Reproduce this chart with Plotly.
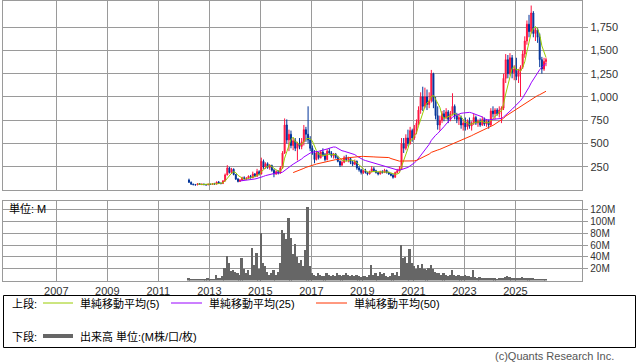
import pandas as pd
import plotly.graph_objects as go

# ---------------- data (monthly, from 2012-03) ----------------
start_month = "2012-03-01"

opens = [
    # 2012 Mar-Dec
    110, 85, 65, 60, 58, 70, 62, 66, 60, 58,
    # 2013
    65, 62, 70, 66, 88, 75, 72, 100, 165, 240, 190, 225,
    # 2014
    170, 120, 95, 110, 135, 125, 130, 150, 135, 175, 150, 200,
    # 2015
    175, 310, 250, 285, 245, 265, 215, 175, 200, 185, 240, 400,
    # 2016
    700, 540, 600, 480, 530, 450, 500, 470, 520, 650, 600, 540,
    # 2017
    450, 400, 330, 400, 350, 410, 380, 330, 420, 400, 370, 390,
    # 2018
    350, 310, 270, 300, 350, 330, 340, 300, 280, 310, 240, 220,
    # 2019
    190, 210, 190, 175, 200, 230, 210, 190, 175, 200, 190, 215,
    # 2020
    190, 175, 160, 140, 190, 210, 230, 500, 450, 560, 500, 640,
    # 2021
    560, 660, 720, 860, 1000, 900, 1000, 920, 960, 1250, 950, 800,
    # 2022
    700, 750, 820, 780, 840, 760, 820, 900, 800, 760, 780, 700,
    # 2023
    720, 680, 740, 690, 720, 780, 720, 740, 700, 760, 710, 740,
    # 2024
    700, 850, 820, 860, 820, 860, 880, 1200, 1400, 1250, 1420, 1260,
    # 2025
    1300, 1220, 1280, 1320, 1460, 1600, 1780, 1700, 1900, 1680, 1720, 1640,
    # 2026 Jan-Mar
    1400, 1300, 1380,
]
highs = [
    125, 95, 72, 68, 75, 78, 70, 72, 66, 70,
    72, 75, 80, 95, 100, 85, 110, 180, 270, 250, 240, 235,
    175, 130, 120, 145, 150, 140, 160, 165, 200, 185, 230, 215,
    350, 330, 300, 300, 280, 275, 230, 215, 215, 260, 420, 770,
    760, 650, 640, 560, 560, 520, 560, 560, 700, 680, 900, 580,
    480, 430, 420, 410, 430, 450, 400, 440, 450, 420, 400, 400,
    370, 320, 320, 370, 380, 360, 350, 320, 330, 320, 260, 230,
    220, 230, 200, 210, 260, 250, 220, 200, 210, 215, 230, 220,
    200, 185, 175, 200, 230, 260, 560, 560, 600, 650, 680, 660,
    700, 760, 900, 1050, 1110, 1100, 1080, 1050, 1290, 1260, 1000, 900,
    800, 850, 860, 880, 860, 850, 1040, 920, 830, 820, 800, 760,
    780, 760, 780, 740, 820, 800, 760, 770, 790, 780, 760, 760,
    880, 900, 880, 880, 900, 900, 1250, 1460, 1450, 1470, 1450, 1340,
    1420, 1300, 1340, 1500, 1650, 1820, 1880, 1980, 1920, 1740, 1740, 1680,
    1430, 1420, 1420,
]
lows = [
    80, 60, 55, 52, 55, 58, 55, 58, 52, 55,
    58, 60, 62, 64, 70, 65, 70, 95, 160, 180, 175, 160,
    110, 85, 90, 100, 115, 110, 120, 125, 130, 140, 145, 160,
    170, 230, 230, 230, 220, 200, 140, 165, 170, 180, 230, 390,
    500, 420, 450, 430, 420, 320, 440, 440, 480, 520, 500, 420,
    380, 290, 320, 330, 340, 360, 310, 320, 380, 350, 340, 340,
    300, 250, 260, 290, 310, 300, 280, 260, 270, 220, 200, 170,
    175, 180, 160, 170, 190, 200, 180, 160, 170, 180, 185, 180,
    165, 150, 125, 135, 180, 200, 220, 400, 430, 470, 490, 520,
    540, 600, 700, 820, 850, 880, 860, 880, 940, 880, 760, 650,
    640, 720, 740, 760, 720, 740, 800, 760, 720, 700, 660, 640,
    640, 650, 660, 640, 700, 700, 680, 680, 690, 690, 680, 660,
    690, 780, 760, 800, 780, 720, 860, 1150, 1200, 1230, 1200, 1180,
    1180, 1150, 1000, 1300, 1420, 1560, 1640, 1680, 1640, 1600, 1580, 1320,
    1250, 1280, 1330,
]
closes = [
    85, 65, 60, 58, 70, 62, 66, 60, 58, 65,
    62, 70, 66, 88, 75, 72, 100, 165, 240, 190, 225, 170,
    120, 95, 110, 135, 125, 130, 150, 135, 175, 150, 200, 175,
    310, 250, 285, 245, 265, 215, 175, 200, 185, 240, 400, 700,
    540, 600, 480, 530, 450, 500, 470, 520, 650, 600, 540, 450,
    400, 330, 400, 350, 410, 380, 330, 420, 400, 370, 390, 350,
    310, 270, 300, 350, 330, 340, 300, 280, 310, 240, 220, 190,
    210, 190, 175, 200, 230, 210, 190, 175, 200, 190, 215, 190,
    175, 160, 140, 190, 210, 230, 500, 450, 560, 500, 640, 560,
    660, 720, 860, 1000, 900, 1000, 920, 960, 1250, 950, 800, 700,
    750, 820, 780, 840, 760, 820, 900, 800, 760, 780, 700, 720,
    680, 740, 690, 720, 780, 720, 740, 700, 760, 710, 740, 700,
    850, 820, 860, 820, 860, 880, 1200, 1400, 1250, 1420, 1260, 1300,
    1220, 1280, 1320, 1460, 1600, 1780, 1700, 1900, 1680, 1720, 1640, 1400,
    1300, 1380, 1400,
]
volumes_m = [
    4, 3, 2, 2, 3, 2, 2, 3, 2, 4,
    3, 2, 3, 10, 5, 4, 8, 22, 42, 30, 16, 18,
    15, 12, 10, 38, 20, 12, 18, 10, 55, 27, 47, 20,
    80, 30, 25, 15, 10, 12, 18, 10, 15, 30, 85, 80,
    70, 105, 72, 45, 62, 40, 30, 35, 25, 52, 125, 25,
    12, 10, 8, 12, 10, 8, 7, 12, 9, 8, 10, 7,
    12, 9, 8, 10, 12, 9, 8, 10, 7, 9, 8, 6,
    8, 7, 6, 10, 27, 10, 12, 8, 14, 11, 13, 8,
    6, 7, 12, 10, 15, 8, 60, 38, 40, 30, 53, 30,
    25, 20, 27, 22, 28, 20, 18, 22, 27, 20, 15, 12,
    12, 10, 12, 9, 8, 10, 17, 9, 8, 10, 8, 7,
    10, 8, 7, 6, 18, 6, 5, 6, 5, 4, 4, 5,
    4, 5, 4, 3, 4, 5, 4, 6, 8, 6, 5, 4,
    5, 4, 5, 6, 5, 4, 5, 4, 4, 3, 3, 3,
    3, 3, 2,
]
price_ticks = [250, 500, 750, 1000, 1250, 1500, 1750]
volume_ticks = [20, 40, 60, 80, 100, 120]
volume_tick_labels = ["20M", "40M", "60M", "80M", "100M", "120M"]
year_ticks = [2007, 2009, 2011, 2013, 2015, 2017, 2019, 2021, 2023, 2025]
ma_windows = [5, 25, 50]
ma_labels = ["単純移動平均(5)", "単純移動平均(25)", "単純移動平均(50)"]
ma_colors = ["#99cc00", "#9900ff", "#ff3300"]

# ---------------- derived ----------------
n = len(closes)
assert len(opens) == n and len(highs) == n and len(lows) == n and len(volumes_m) == n
dates = pd.date_range(start_month, periods=n, freq="MS") + pd.Timedelta(days=14)
close_s = pd.Series(closes, index=dates)

W, H = 638, 362
def px(x):
    return x / W
def py(y):
    return 1 - y / H

FONT = "Liberation Sans, Noto Sans CJK JP, sans-serif"
GRID = "#9a9a9a"
RED = "#ff1440"
BLUE = "#003399"

fig = go.Figure()
fig.add_trace(go.Candlestick(
    x=dates, open=opens, high=highs, low=lows, close=closes,
    increasing=dict(line=dict(color=RED, width=1), fillcolor=RED),
    decreasing=dict(line=dict(color=BLUE, width=1), fillcolor=BLUE),
    whiskerwidth=0, xaxis="x", yaxis="y", showlegend=False, hoverinfo="skip",
))
for w, c in zip(ma_windows, ma_colors):
    ma = close_s.rolling(w).mean()
    fig.add_trace(go.Scatter(x=dates, y=ma.values, mode="lines",
                             line=dict(color=c, width=1), xaxis="x", yaxis="y",
                             showlegend=False, hoverinfo="skip"))
fig.add_trace(go.Bar(x=dates, y=volumes_m, marker=dict(color="#666666", line=dict(width=0)),
                     width=26 * 86400000, xaxis="x2", yaxis="y2",
                     showlegend=False, hoverinfo="skip"))

xrange = ["2004-12-03", "2027-08-17"]
xtv = [f"{y}-01-01" for y in year_ticks]
xdom = [px(3.3), px(582.3)]

fig.update_layout(
    width=W, height=H, margin=dict(l=0, r=0, t=0, b=0),
    paper_bgcolor="white", plot_bgcolor="white",
    font=dict(family=FONT, size=11, color="#333"),
    bargap=0,
    xaxis=dict(domain=xdom, range=xrange, type="date", anchor="y",
               tickvals=xtv, showticklabels=False, ticks="",
               showgrid=True, gridcolor=GRID, gridwidth=1,
               showline=True, mirror=True, linecolor=GRID, linewidth=1,
               rangeslider=dict(visible=False), fixedrange=True),
    yaxis=dict(domain=[py(190.3), py(0.5)], range=[0, 2034], side="right", anchor="x",
               tickvals=price_ticks, tickformat=",", ticks="outside", ticklen=5,
               tickcolor=GRID, showgrid=True, gridcolor=GRID, zeroline=False,
               showline=True, mirror=True, linecolor=GRID, linewidth=1,
               tickfont=dict(size=11, color="#333")),
    xaxis2=dict(domain=xdom, range=xrange, type="date", anchor="y2", matches="x",
                tickvals=xtv, ticktext=[str(y) for y in year_ticks], ticks="",
                showgrid=True, gridcolor=GRID, gridwidth=1,
                showline=True, mirror=True, linecolor=GRID, linewidth=1,
                tickfont=dict(size=11, color="#333")),
    yaxis2=dict(domain=[py(280.5), py(201)], range=[0, 134.5], side="right", anchor="x2",
                tickvals=volume_ticks, ticktext=volume_tick_labels, ticks="outside", ticklen=5,
                tickcolor=GRID, showgrid=True, gridcolor=GRID, zeroline=False,
                showline=True, mirror=True, linecolor=GRID, linewidth=1,
                tickfont=dict(size=10, color="#333")),
)

shapes = []
annotations = []
# legend box
shapes.append(dict(type="rect", xref="paper", yref="paper",
                   x0=px(3.5), x1=px(635.5), y0=py(347.5), y1=py(295.5),
                   line=dict(color="#000", width=1)))
row1, row2 = 303, 336
annotations.append(dict(text="上段:", x=px(10), y=py(row1), xref="paper", yref="paper",
                        xanchor="left", yanchor="middle", showarrow=False,
                        font=dict(size=11, color="#000")))
sx = [(43, 73, 78), (171, 202, 207), (316, 347, 352)]
for (a, b, t), c, lab in zip(sx, ma_colors, ma_labels):
    shapes.append(dict(type="line", xref="paper", yref="paper",
                       x0=px(a), x1=px(b), y0=py(row1), y1=py(row1),
                       line=dict(color=c, width=1)))
    annotations.append(dict(text=lab, x=px(t), y=py(row1), xref="paper", yref="paper",
                            xanchor="left", yanchor="middle", showarrow=False,
                            font=dict(size=11, color="#000")))
annotations.append(dict(text="下段:", x=px(10), y=py(row2), xref="paper", yref="paper",
                        xanchor="left", yanchor="middle", showarrow=False,
                        font=dict(size=11, color="#000")))
shapes.append(dict(type="line", xref="paper", yref="paper",
                   x0=px(43), x1=px(73), y0=py(row2), y1=py(row2),
                   line=dict(color="#666666", width=4)))
annotations.append(dict(text="出来高 単位:(M株/口/枚)", x=px(78), y=py(row2), xref="paper", yref="paper",
                        xanchor="left", yanchor="middle", showarrow=False,
                        font=dict(size=11, color="#000")))
annotations.append(dict(text="単位: M", x=px(7), y=py(208), xref="paper", yref="paper",
                        xanchor="left", yanchor="middle", showarrow=False,
                        font=dict(size=11, color="#000")))
annotations.append(dict(text="(c)Quants Research Inc.", x=px(616), y=py(356), xref="paper", yref="paper",
                        xanchor="right", yanchor="middle", showarrow=False,
                        font=dict(size=11, color="#555")))
fig.update_layout(shapes=shapes, annotations=annotations)

fig.write_html("out.html")
